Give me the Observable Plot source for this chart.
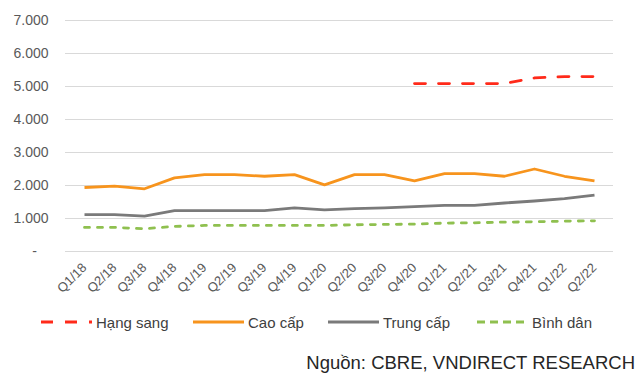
<!DOCTYPE html>
<html>
<head>
<meta charset="utf-8">
<script src="https://cdn.jsdelivr.net/npm/d3@7"></script>
<script src="https://cdn.jsdelivr.net/npm/@observablehq/plot@0.6"></script>
<style>
  html, body { margin: 0; padding: 0; background: #fff; }
  body { width: 644px; height: 383px; position: relative; overflow: hidden; font-family: "Liberation Sans", Arial, sans-serif; }
  #chart { position: absolute; left: 0; top: 0; }
  .leg { position: absolute; top: 312px; height: 20px; display: flex; align-items: center; font-size: 15px; color: #404040; }
  .leg svg { display: block; margin-right: 4px; }
  #source { position: absolute; right: 9px; top: 352px; font-size: 18.5px; color: #262626; white-space: nowrap; }
</style>
</head>
<body>
<div id="chart"></div>
<div id="legend"></div>
<div id="source">Nguồn: CBRE, VNDIRECT RESEARCH</div>
<script>
const quarters = ["Q1/18","Q2/18","Q3/18","Q4/18","Q1/19","Q2/19","Q3/19","Q4/19","Q1/20","Q2/20","Q3/20","Q4/20","Q1/21","Q2/21","Q3/21","Q4/21","Q1/22","Q2/22"];
const hangSang = [null,null,null,null,null,null,null,null,null,null,null,5090,5090,5090,5090,5260,5300,5300];
const caoCap   = [1940,1980,1900,2230,2330,2330,2280,2330,2020,2330,2330,2140,2360,2360,2280,2500,2280,2140];
const trungCap = [1120,1120,1070,1240,1240,1240,1240,1320,1260,1300,1320,1360,1400,1400,1470,1530,1600,1710];
const binhDan  = [730,730,690,760,790,790,790,790,790,810,820,830,860,870,890,900,920,930];
const seriesNames = ["Hạng sang","Cao cấp","Trung cấp","Bình dân"];
const yTicks = [0,1000,2000,3000,4000,5000,6000,7000];

const colors = {"Hạng sang":"#ff2a1a","Cao cấp":"#f7941d","Trung cấp":"#7a7a7a","Bình dân":"#8fc04f"};
const dashes = {"Hạng sang":"11,13","Cao cấp":null,"Trung cấp":null,"Bình dân":"5,8"};

function rows(name, vals) {
  return quarters.map((q,i)=>({q, v: vals[i], s: name})).filter(d => d.v != null);
}
const data = {
  "Hạng sang": rows("Hạng sang", hangSang),
  "Cao cấp": rows("Cao cấp", caoCap),
  "Trung cấp": rows("Trung cấp", trungCap),
  "Bình dân": rows("Bình dân", binhDan)
};

const fmt = d => d === 0 ? "-\u00a0\u00a0\u00a0" : d3.format(",")(d).replace(/,/g, ".");

const lineMark = name => Plot.lineY(data[name], {
  x: "q", y: "v", stroke: colors[name], strokeWidth: 2.8,
  strokeDasharray: dashes[name] || undefined,
  strokeLinecap: dashes[name] ? "round" : "butt",
  strokeLinejoin: "round"
});

const chart = Plot.plot({
  width: 644,
  height: 300,
  marginLeft: 65,
  marginRight: 31,
  marginTop: 20,
  marginBottom: 49,
  style: { fontFamily: "'Liberation Sans', Arial, sans-serif", background: "#fff" },
  x: { type: "point", domain: quarters, padding: 0.5, label: null },
  y: { domain: [0, 7000], label: null },
  marks: [
    Plot.gridY(yTicks, { stroke: "#d9d9d9", strokeOpacity: 1, strokeWidth: 1 }),
    Plot.axisY(yTicks, { tickSize: 0, tickPadding: 17, tickFormat: fmt, fontSize: 14, fill: "#595959", label: null }),
    Plot.axisX(quarters, { tickSize: 0, tickPadding: 14, tickRotate: -45, fontSize: 13, fill: "#595959", label: null }),
    lineMark("Bình dân"),
    lineMark("Trung cấp"),
    lineMark("Cao cấp"),
    lineMark("Hạng sang")
  ]
});
document.getElementById("chart").appendChild(chart);

// Legend
const legendPos = {"Hạng sang":41, "Cao cấp":193, "Trung cấp":328, "Bình dân":477};
const legend = document.getElementById("legend");
for (const name of seriesNames) {
  const item = document.createElement("div");
  item.className = "leg";
  item.style.left = legendPos[name] + "px";
  const dash = name === "Hạng sang" ? "12,12" : (name === "Bình dân" ? "8,5" : "");
  item.innerHTML = `<svg width="51" height="6"><line x1="0" y1="3" x2="51" y2="3" stroke="${colors[name]}" stroke-width="3" ${dash ? `stroke-dasharray="${dash}"` : ""}/></svg><span>${name}</span>`;
  legend.appendChild(item);
}
</script>
</body>
</html>
